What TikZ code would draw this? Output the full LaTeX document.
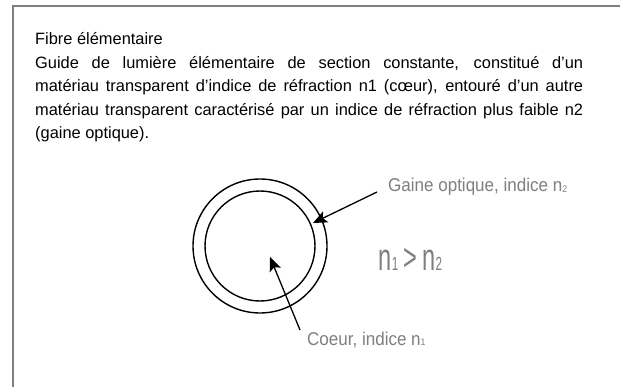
\documentclass[tikz,border=0pt]{standalone}
\usepackage{fontspec}
\setmainfont{Liberation Sans}
\newfontfamily\lblfont[FakeStretch=0.92]{Liberation Sans}
\newfontfamily\bigfont[FakeStretch=0.62]{Liberation Sans}
\usetikzlibrary{arrows.meta}
\definecolor{framegray}{HTML}{808080}
\definecolor{lblgray}{HTML}{7F7F7F}
\tikzset{
  frameline/.style={draw=framegray, line width=1.5pt},
  ring/.style={draw=black, line width=1.4pt},
  pointer/.style={draw=black, line width=1.3pt, -{Stealth[length=14pt,width=12pt,inset=3pt]}},
  lbl/.style={inner sep=0pt, anchor=base west, text=lblgray, font=\lblfont\fontsize{18.5}{20}\selectfont},
  para/.style={inner sep=0pt, anchor=base west, text width=548pt, align=justify, font=\fontsize{16.4}{23.6}\selectfont}
}
\newcommand{\smalldig}[1]{\raisebox{-0.5pt}{\fontsize{9.5}{9.5}\selectfont #1}}
\begin{document}
\begin{tikzpicture}[x=1pt,y=-1pt]
\useasboundingbox (0,0) rectangle (620,387);
\fill[white] (0,0) rectangle (620,387);
\draw[frameline] (13,388) -- (13,6) -- (621,6);

\node[para] (txt) at (35,44.5) {\hyphenpenalty=10000 Fibre élémentaire\par
Guide de lumière élémentaire de section constante, constitué d’un\linebreak
matériau transparent d’indice de réfraction n1 (cœur), entouré d’un autre\linebreak
matériau transparent caractérisé par un indice de réfraction plus faible n2\linebreak
(gaine optique).};

\node[ring, circle, minimum size=134pt, inner sep=0pt] (gaine) at (260,246) {};
\node[ring, circle, minimum size=110pt, inner sep=0pt] (coeur) at (260,246) {};

\node[lbl] (lg) at (388,192) {Gaine optique, indice n\smalldig{2}};
\node[lbl] (lc) at (307,345) {Coeur, indice n\smalldig{1}};
\node[inner sep=0pt, anchor=base west, text=lblgray] (ineq) at (378,270)
  {\bigfont\fontsize{38}{38}\selectfont n\kern0.5pt{\fontsize{19}{19}\selectfont 1}\kern5pt>\kern5pt n\kern0.5pt{\fontsize{19}{19}\selectfont 2}};

\coordinate (lgs) at (377,192);
\coordinate (lgt) at (313,223);
\coordinate (lcs) at (300,330);
\coordinate (lct) at (270,257);
\draw[pointer] (lgs) -- (lgt);
\draw[pointer] (lcs) -- (lct);
\end{tikzpicture}
\end{document}
